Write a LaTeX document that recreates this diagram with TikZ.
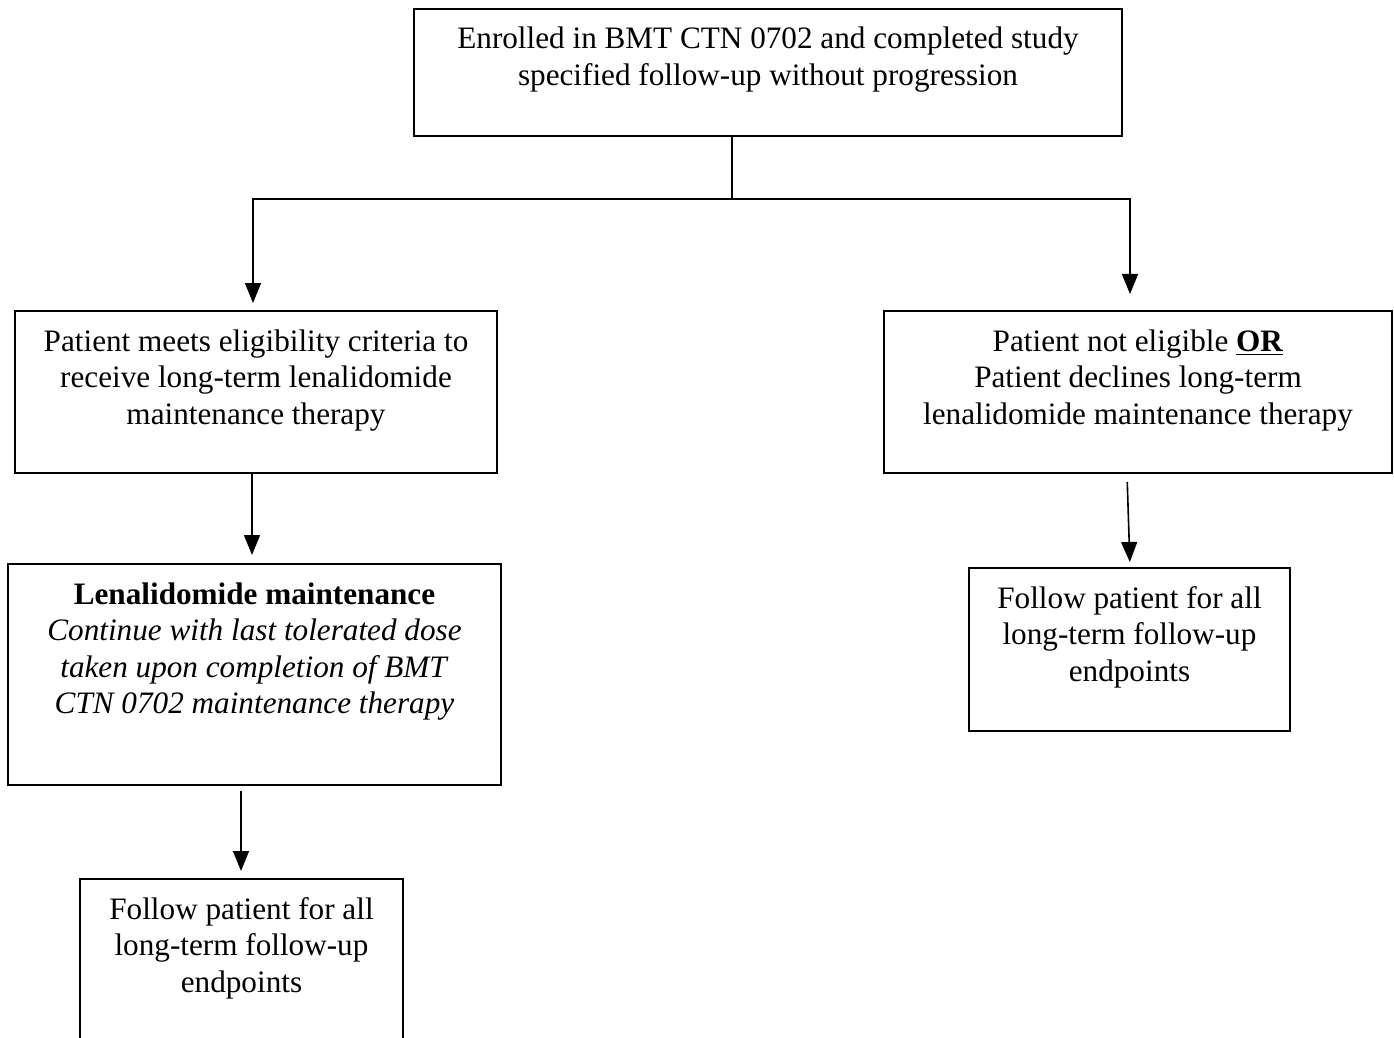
\documentclass[tikz,border=0pt]{standalone}
\usepackage{fontspec}
\setmainfont{Liberation Serif}
\usetikzlibrary{arrows.meta}

\tikzset{
  stepbox/.style={draw, line width=1pt, align=center, anchor=north,
    inner xsep=4pt, inner ysep=9pt,
    font=\fontsize{15.6}{18.3}\selectfont},
  flow/.style={line width=0.8pt, -{Triangle[length=10pt,width=8pt]}},
}

\begin{document}
\begin{tikzpicture}[x=0.5pt,y=-0.5pt]
\useasboundingbox (0,0) rectangle (1394,1038);
\clip (0,0) rectangle (1394,1038);

% boxes
\node[stepbox, minimum width=354pt, text height=29.3pt, text depth=16.2pt] (enrolled) at (768,8)
  {Enrolled in BMT CTN 0702 and completed study\\specified follow-up without progression};
\node[stepbox, minimum width=241pt, text height=47.6pt, text depth=15.4pt] (elig) at (256,310)
  {Patient meets eligibility criteria to\\receive long-term lenalidomide\\maintenance therapy};
\node[stepbox, minimum width=246.5pt, text height=65.9pt, text depth=26.6pt] (lenal) at (254.5,563)
  {\textbf{Lenalidomide maintenance}\\\textit{Continue with last tolerated dose}\\\textit{taken upon completion of BMT}\\\textit{CTN 0702 maintenance therapy}};
\node[stepbox, minimum width=161.5pt, text height=47.6pt, text depth=30pt] (followL) at (241.5,878)
  {Follow patient for all\\long-term follow-up\\endpoints};
\node[stepbox, minimum width=254pt, text height=47.6pt, text depth=15.4pt] (notelig) at (1138,310)
  {Patient not eligible \underline{\textbf{OR}}\\Patient declines long-term\\lenalidomide maintenance therapy};
\node[stepbox, minimum width=160.5pt, text height=47.6pt, text depth=15.9pt] (followR) at (1129.5,567)
  {Follow patient for all\\long-term follow-up\\endpoints};

% connectors
\coordinate (split) at (732,199);
\draw[line width=0.6pt] (enrolled.south -| split) -- (split);
\draw[flow, shorten >=3.5pt] (split) -| ([xshift=-1.5pt]elig.north);
\draw[flow, shorten >=8pt] (split) -| ([xshift=-4pt]notelig.north);
\draw[flow, shorten >=4pt] ([xshift=-2pt]elig.south) -- ([xshift=-2pt]elig.south |- lenal.north);
\draw[flow, shorten <=2.5pt, shorten >=3.5pt] ([xshift=-6.75pt]lenal.south) -- ([xshift=-0.25pt]followL.north);
\draw[flow, shorten <=4pt, shorten >=2.5pt] ([xshift=-5.5pt]notelig.south) -- ([xshift=0.25pt]followR.north);
\end{tikzpicture}
\end{document}
